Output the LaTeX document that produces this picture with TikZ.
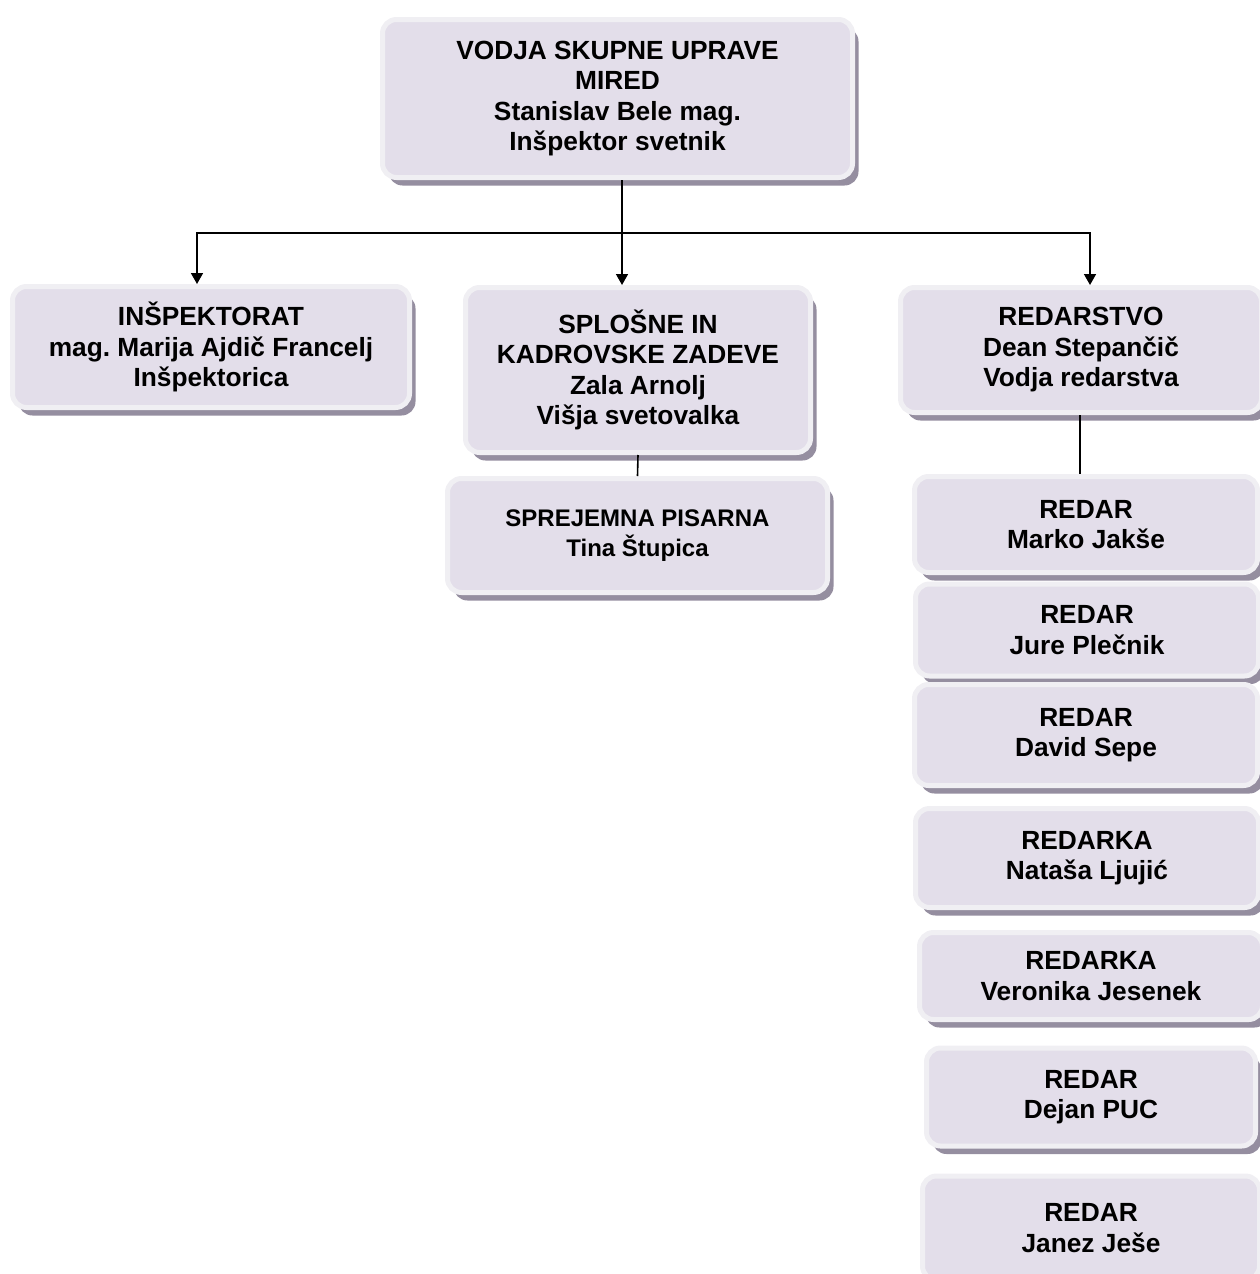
\documentclass[tikz,border=0pt]{standalone}
\usepackage{fontspec}
\setmainfont{Liberation Sans}
\frenchspacing
\usetikzlibrary{arrows.meta,shadows}
\definecolor{boxfill}{HTML}{E3DEEA}
\definecolor{boxrim}{HTML}{F0EFF3}
\definecolor{boxshade}{HTML}{958EA0}

\begin{document}
\begin{tikzpicture}[x=1pt, y=-1pt,
    unit/.style={rounded corners=14pt, fill=boxfill, draw=boxrim, line width=5pt,
      align=center, inner sep=0pt, font=\fontsize{26.3}{30.5}\selectfont\bfseries,
      drop shadow={shadow xshift=6pt, shadow yshift=-8pt, fill=boxshade, opacity=1}},
    link/.style={line width=1.6pt, draw=black},
    arrow/.style={link, -{Triangle[length=11pt, width=12pt]}}]
    \useasboundingbox (0,0) rectangle (1259,1274);

    % head of the office
    \node[unit, minimum width=470pt, minimum height=158pt] (top) at (617.5,98.5)
      {VODJA SKUPNE UPRAVE\\MIRED\\Stanislav Bele mag.\\Inšpektor svetnik};

    % three departments
    \node[unit, minimum width=397pt, minimum height=121pt] (insp) at (211,347)
      {INŠPEKTORAT\\mag. Marija Ajdič Francelj\\Inšpektorica};
    \node[unit, minimum width=345pt, minimum height=165pt] (gen) at (638,370)
      {SPLOŠNE IN\\KADROVSKE ZADEVE\\Zala Arnolj\\Višja svetovalka};
    \node[unit, minimum width=361pt, minimum height=125pt] (red) at (1081,350)
      {REDARSTVO\\Dean Stepančič\\Vodja redarstva};

    \node[unit, minimum width=380pt, minimum height=114pt,
      font=\fontsize{24}{30}\selectfont\bfseries] (office) at (637.5,535.5)
      {SPREJEMNA PISARNA\\Tina Štupica};

    % wardens
    \node[unit, minimum width=343pt, minimum height=96pt] (r1) at (1086,524.5) {REDAR\\Marko Jakše};
    \node[unit, minimum width=343pt, minimum height=92pt] (r2) at (1087,630) {REDAR\\Jure Plečnik};
    \node[unit, minimum width=343pt, minimum height=101pt] (r3) at (1086,735) {REDAR\\David Sepe};
    \node[unit, minimum width=343pt, minimum height=99pt] (r4) at (1087,858) {REDARKA\\Nataša Ljujić};
    \node[unit, minimum width=343pt, minimum height=87pt] (r5) at (1091,976) {REDARKA\\Veronika Jesenek};
    \node[unit, minimum width=329pt, minimum height=98pt] (r6) at (1091,1097) {REDAR\\Dejan PUC};
    \node[unit, minimum width=337pt, minimum height=104pt] (r7) at (1091,1228) {REDAR\\Janez Ješe};

    \coordinate (hub) at (622,233);

    \draw[link] (top.south -| hub) -- (hub);
    \draw[arrow] (hub) -| ([xshift=-14pt]insp.north);
    \draw[arrow] (hub) -- (hub |- gen.north);
    \draw[arrow] (hub) -| ([xshift=9pt]red.north);

    \draw[link] (gen.south) -- (office.north);
    \draw[link] ([xshift=-1pt]red.south) -- ([xshift=-1pt]red.south |- r1.north);
  \end{tikzpicture}
\end{document}
